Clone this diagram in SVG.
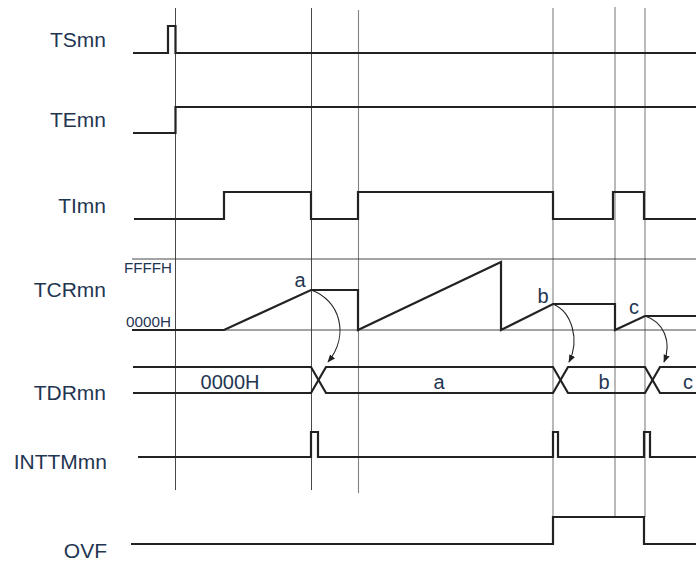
<svg xmlns="http://www.w3.org/2000/svg" width="696" height="563" viewBox="0 0 696 563">
<defs>
<style>
.lbl{font-family:"Liberation Sans",Arial,sans-serif;font-size:21px;fill:#1f3652;text-anchor:end}
.val{font-family:"Liberation Sans",Arial,sans-serif;font-size:20px;fill:#1f3652;text-anchor:middle}
.small{font-family:"Liberation Sans",Arial,sans-serif;font-size:15px;fill:#1f3652}
.sig{fill:none;stroke:#222;stroke-width:2.2;stroke-linejoin:miter}
.grid{fill:none;stroke:#333;stroke-width:0.9}
.guide{fill:none;stroke:#808080;stroke-width:1.1}
.ref{fill:none;stroke:#333;stroke-width:0.9}
.arr{fill:none;stroke:#222;stroke-width:1.1}
</style>
<marker id="ah" viewBox="0 0 10 10" refX="9" refY="5" markerWidth="8" markerHeight="8" markerUnits="userSpaceOnUse" orient="auto">
<path d="M0,1 L10,5 L0,9 Z" fill="#222"/>
</marker>
</defs>
<rect width="696" height="563" fill="#fff"/>

<g id="guides">
<line class="grid" x1="175.5" y1="8" x2="175.5" y2="490"/>
<line class="grid" x1="311.5" y1="8" x2="311.5" y2="490"/>
<line class="guide" x1="358.5" y1="10" x2="358.5" y2="493"/>
<line class="guide" x1="553" y1="8" x2="553" y2="517"/>
<line class="guide" x1="615" y1="7" x2="615" y2="517"/>
<line class="guide" x1="645" y1="8" x2="645" y2="517"/>
</g>

<g id="TSmn">
<text class="lbl" x="106" y="47">TSmn</text>
<polyline class="sig" points="133,53 168,53 168,26 175.5,26 175.5,53 696,53"/>
</g>

<g id="TEmn">
<text class="lbl" x="106" y="127">TEmn</text>
<polyline class="sig" points="133,133 175.5,133 175.5,107 696,107"/>
</g>

<g id="TImn">
<text class="lbl" x="106" y="213">TImn</text>
<polyline class="sig" points="134,219 224,219 224,192 311,192 311,219 358,219 358,192 553,192 553,219 613,219 613,192 644,192 644,219 696,219"/>
</g>

<g id="TCRmn">
<text class="lbl" x="106" y="297">TCRmn</text>
<line class="ref" x1="132" y1="259" x2="696" y2="259"/>
<line class="ref" x1="132" y1="330" x2="696" y2="330"/>
<text class="small" x="124" y="273" textLength="48" lengthAdjust="spacingAndGlyphs">FFFFH</text>
<text class="small" x="126" y="327" textLength="45" lengthAdjust="spacingAndGlyphs">0000H</text>
<polyline class="sig" points="132,330 224,330 311,290 358,290 358,330 501,262 501,330 553,304 615,304 615,330 645,316 696,316"/>
<text class="val" x="300" y="287">a</text>
<text class="val" x="543" y="303">b</text>
<text class="val" x="634" y="314">c</text>
</g>

<g id="TDRmn">
<text class="lbl" x="106" y="400">TDRmn</text>
<polyline class="sig" points="133,367 311,367 326,393 553,393 568,367 645,367 660,393 696,393"/>
<polyline class="sig" points="133,393 311,393 326,367 553,367 568,393 645,393 660,367 696,367"/>
<text class="val" x="230" y="389">0000H</text>
<text class="val" x="439" y="389">a</text>
<text class="val" x="604" y="389">b</text>
<text class="val" x="688" y="389">c</text>
</g>

<g id="INTTMmn">
<text class="lbl" x="107" y="469">INTTMmn</text>
<polyline class="sig" points="138,457 311,457 311,432 318,432 318,457 553,457 553,432 558,432 558,457 644,457 644,432 650,432 650,457 696,457"/>
</g>

<g id="OVF">
<text class="lbl" x="107" y="558">OVF</text>
<polyline class="sig" points="131,544 553,544 553,517 644,517 644,544 696,544"/>
</g>

<g id="connectors">
<path class="arr" marker-end="url(#ah)" d="M311,290 C340,300 350,335 328,362"/>
<path class="arr" marker-end="url(#ah)" d="M553,304 C572,312 580,340 569,362"/>
<path class="arr" marker-end="url(#ah)" d="M645,316 C664,322 672,342 664,362"/>
</g>
</svg>
